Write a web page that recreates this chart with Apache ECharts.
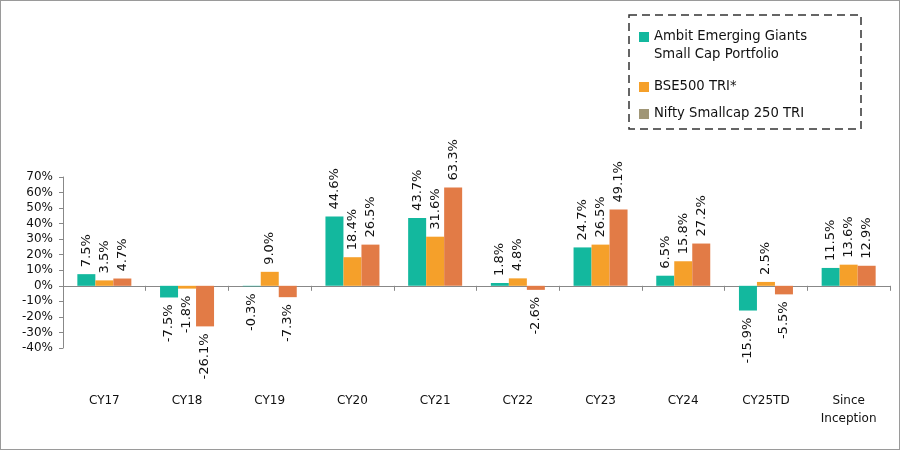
<!DOCTYPE html>
<html><head><meta charset="utf-8">
<script src="https://cdn.jsdelivr.net/npm/echarts@6/dist/echarts.min.js"></script>
<style>html,body{margin:0;padding:0;background:#fff}#c{width:900px;height:450px;box-sizing:border-box;border:1px solid #9a9a9a}</style>
</head><body><div id="c"></div>
<script>
const categories = ['CY17','CY18','CY19','CY20','CY21','CY22','CY23','CY24','CY25TD','Since\nInception'];
const seriesNames = ['Ambit Emerging Giants\nSmall Cap Portfolio','BSE500 TRI*','Nifty Smallcap 250 TRI'];
const ambit = [7.5, -7.5, -0.3, 44.6, 43.7, 1.8, 24.7, 6.5, -15.9, 11.5];
const bse500 = [3.5, -1.8, 9.0, 18.4, 31.6, 4.8, 26.5, 15.8, 2.5, 13.6];
const nifty = [4.7, -26.1, -7.3, 26.5, 63.3, -2.6, 49.1, 27.2, -5.5, 12.9];
const yTicks = {min: -40, max: 70, interval: 10};

const colors = ['#13B89E', '#F5A02A', '#E27B46'];
const legendColors = ['#13B89E', '#F5A02A', '#A09676'];
const FONT = '"DejaVu Sans", "Open Sans", sans-serif';

function mkData(arr){
  return arr.map(v => ({
    value: v,
    label: v < 0 ? {position: 'bottom', align: 'right'} : {position: 'top', align: 'left'}
  }));
}
function mkSeries(i, arr){
  return {
    name: seriesNames[i], type: 'bar', data: mkData(arr), barWidth: 18, barGap: '0%',
    itemStyle: {color: colors[i]},
    label: {show: true, rotate: 90, distance: 7, verticalAlign: 'middle',
      fontFamily: FONT, fontSize: 13, color: '#111',
      formatter: p => p.value.toFixed(1) + '%'}
  };
}
const legendTop = [31, 81, 108];
const legendGraphics = [];
legendGraphics.push({type: 'rect', shape: {x: 628, y: 14, width: 232, height: 114},
  style: {fill: 'none', stroke: '#333', lineWidth: 1.5, lineDash: [8, 5]}});
seriesNames.forEach((n, i) => {
  legendGraphics.push({type: 'rect', shape: {x: 638, y: legendTop[i], width: 10, height: 10},
    style: {fill: legendColors[i]}});
  legendGraphics.push({type: 'text', x: 653, y: legendTop[i] + 5 - 9,
    style: {text: n, fontFamily: FONT, fontSize: 13.2, lineHeight: 18, fill: '#111', verticalAlign: 'top'}});
});

const chart = echarts.init(document.getElementById('c'));
chart.setOption({
  animation: false,
  grid: {left: 62, right: 9, top: 176, bottom: 101, containLabel: false, outerBoundsMode: 'none'},
  legend: {show: false, data: seriesNames},
  graphic: legendGraphics,
  xAxis: [{type: 'category', data: categories,
    axisLine: {onZero: true, lineStyle: {color: '#888'}},
    axisTick: {show: true, length: 5, lineStyle: {color: '#888'}},
    axisLabel: {show: false}},
   {type: 'category', data: categories, position: 'bottom',
    axisLine: {show: false, onZero: false}, axisTick: {show: false},
    axisLabel: {margin: 44, fontFamily: FONT, fontSize: 12, color: '#111', lineHeight: 18, interval: 0, hideOverlap: false}}],
  yAxis: {type: 'value', min: yTicks.min, max: yTicks.max, interval: yTicks.interval,
    axisLine: {show: true, lineStyle: {color: '#888'}},
    axisTick: {show: true, length: 4, lineStyle: {color: '#888'}},
    splitLine: {show: false},
    axisLabel: {formatter: '{value}%', fontFamily: FONT, fontSize: 12, color: '#111', margin: 10,
      showMinLabel: true, showMaxLabel: true, hideOverlap: false}},
  series: [mkSeries(0, ambit), mkSeries(1, bse500), mkSeries(2, nifty)]
});
</script></body></html>
